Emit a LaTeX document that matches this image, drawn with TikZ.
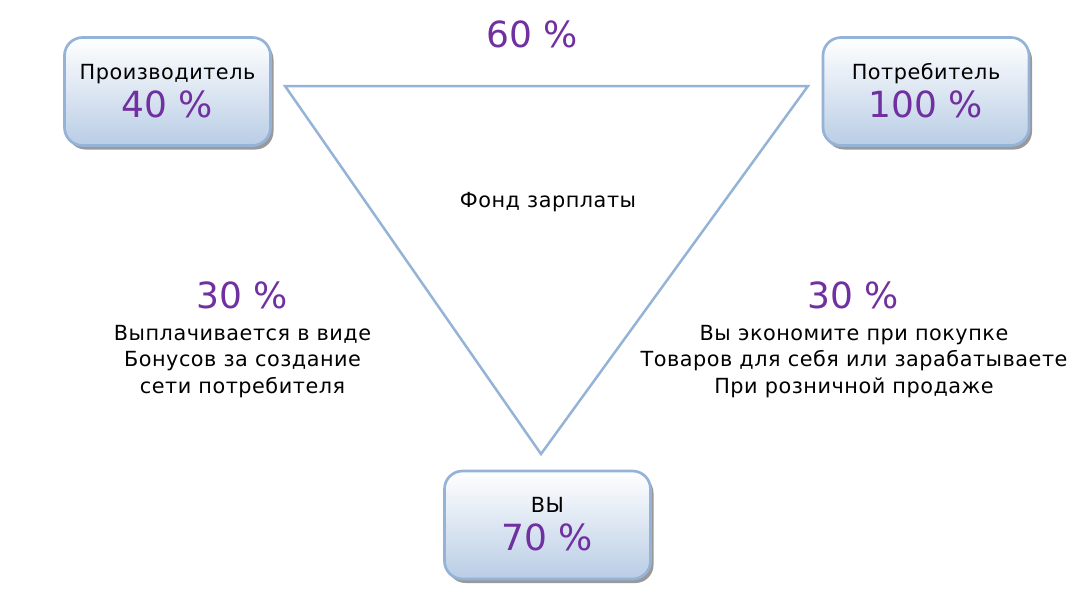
\documentclass[tikz,border=0pt]{standalone}
\usepackage{fontspec}
\setmainfont{DejaVu Sans}
\newfontfamily\lblfont[LetterSpace=2.5]{DejaVu Sans}
\usetikzlibrary{shadows}
\definecolor{edgeblue}{HTML}{95B3D7}
\definecolor{fillblue}{HTML}{B9CDE5}
\definecolor{pct}{HTML}{7030A0}
\tikzset{
  box/.style={draw=edgeblue, line width=2.7pt, rounded corners=18pt,
    minimum width=206pt, minimum height=108pt, top color=white, bottom color=fillblue,
    drop shadow={shadow xshift=3pt, shadow yshift=-4pt, fill=black!50, opacity=0.8}},
  lbl/.style={font=\lblfont\fontsize{20.8}{26.7}\selectfont, text=black, anchor=base, inner sep=0pt},
  big/.style={font=\fontsize{36}{40}\selectfont, text=pct, anchor=base, inner sep=0pt},
  tri/.style={draw=edgeblue, line width=2.5pt, line join=miter}
}
\begin{document}
\begin{tikzpicture}[x=1pt,y=-1pt]
\useasboundingbox (0,0) rectangle (1092,603);
% boxes
\node[box] (prod) at (167.5,91.5) {};
\node[box] (cons) at (926,91.5) {};
\node[box] (you) at (547.5,525) {};
% triangle
\coordinate (tl) at (285,86);
\coordinate (tr) at (808,86);
\coordinate (tb) at (541,454);
\draw[tri] (tl) -- (tr) -- (tb) -- cycle;
% box texts
\node[lbl] (prodt) at (167.5,79.5) {Производитель};
\node[big] (prodp) at (167.5,117) {40 \%};
\node[lbl] (const) at (926,79.5) {Потребитель};
\node[big] (consp) at (926,117) {100 \%};
\node[lbl] (yout) at (547.5,512.5) {ВЫ};
\node[big] (youp) at (547.5,550) {70 \%};
% other labels
\node[big] (top) at (532,47) {60 \%};
\node[lbl] (fund) at (548,207) {Фонд зарплаты};
\node[big] (lp) at (242.5,308) {30 \%};
\node[lbl] (lt1) at (242.5,340) {Выплачивается в виде};
\node[lbl] (lt2) at (242.5,366.7) {Бонусов за создание};
\node[lbl] (lt3) at (242.5,393.4) {сети потребителя};
\node[big] (rp) at (853.5,308) {30 \%};
\node[lbl] (rt1) at (854,340) {Вы экономите при покупке};
\node[lbl] (rt2) at (854,366.7) {Товаров для себя или зарабатываете};
\node[lbl] (rt3) at (854,393.4) {При розничной продаже};
\end{tikzpicture}
\end{document}
